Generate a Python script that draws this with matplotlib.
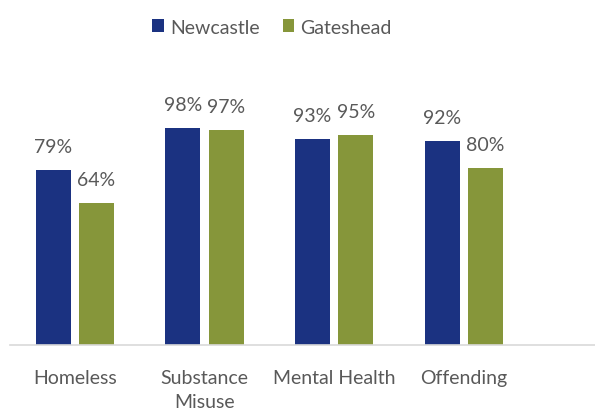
import matplotlib.pyplot as plt
import numpy as np

plt.rcParams['font.family'] = ['Lato', 'DejaVu Sans']

# categories
categories = ['Homeless', 'Substance\nMisuse', 'Mental Health', 'Offending']

# percentage values
newcastle = [79, 98, 93, 92]
gateshead = [64, 97, 95, 80]

navy = '#1b3281'
olive = '#86963a'
grey_text = '#595959'

fig = plt.figure(figsize=(5.95, 4.14), dpi=100)
ax = fig.add_axes([10 / 595, 68 / 414, 585 / 595, 221.5 / 414])

x = np.arange(len(categories))
w = 0.27
off = 0.167

b1 = ax.bar(x - off, newcastle, w, color=navy, label='Newcastle')
b2 = ax.bar(x + off, gateshead, w, color=olive, label='Gateshead')

for bars, vals in [(b1, newcastle), (b2, gateshead)]:
    for bar, v in zip(bars, vals):
        ax.annotate(f'{v}%', (bar.get_x() + bar.get_width() / 2, v),
                    xytext=(0, 13), textcoords='offset points',
                    ha='center', va='baseline', fontsize=14, color=grey_text)

ax.set_xlim(-0.5, -0.5 + 585 / 129.7)
ax.set_ylim(0, 100)
ax.set_xticks(x)
ax.set_xticklabels(categories, fontsize=14, color=grey_text, linespacing=1.55)
ax.tick_params(axis='x', length=0, pad=17)
ax.set_yticks([])
for s in ['top', 'right', 'left']:
    ax.spines[s].set_visible(False)
ax.spines['bottom'].set_color('#d9d9d9')
ax.spines['bottom'].set_linewidth(1.2)

fig.legend(loc='center', bbox_to_anchor=(272 / 595, 1 - 28 / 414), ncol=2,
           frameon=False, fontsize=14, labelcolor=grey_text,
           handlelength=0.6, handleheight=0.6, handletextpad=0.3,
           columnspacing=1.2)

fig.savefig('out.png', dpi=100)
